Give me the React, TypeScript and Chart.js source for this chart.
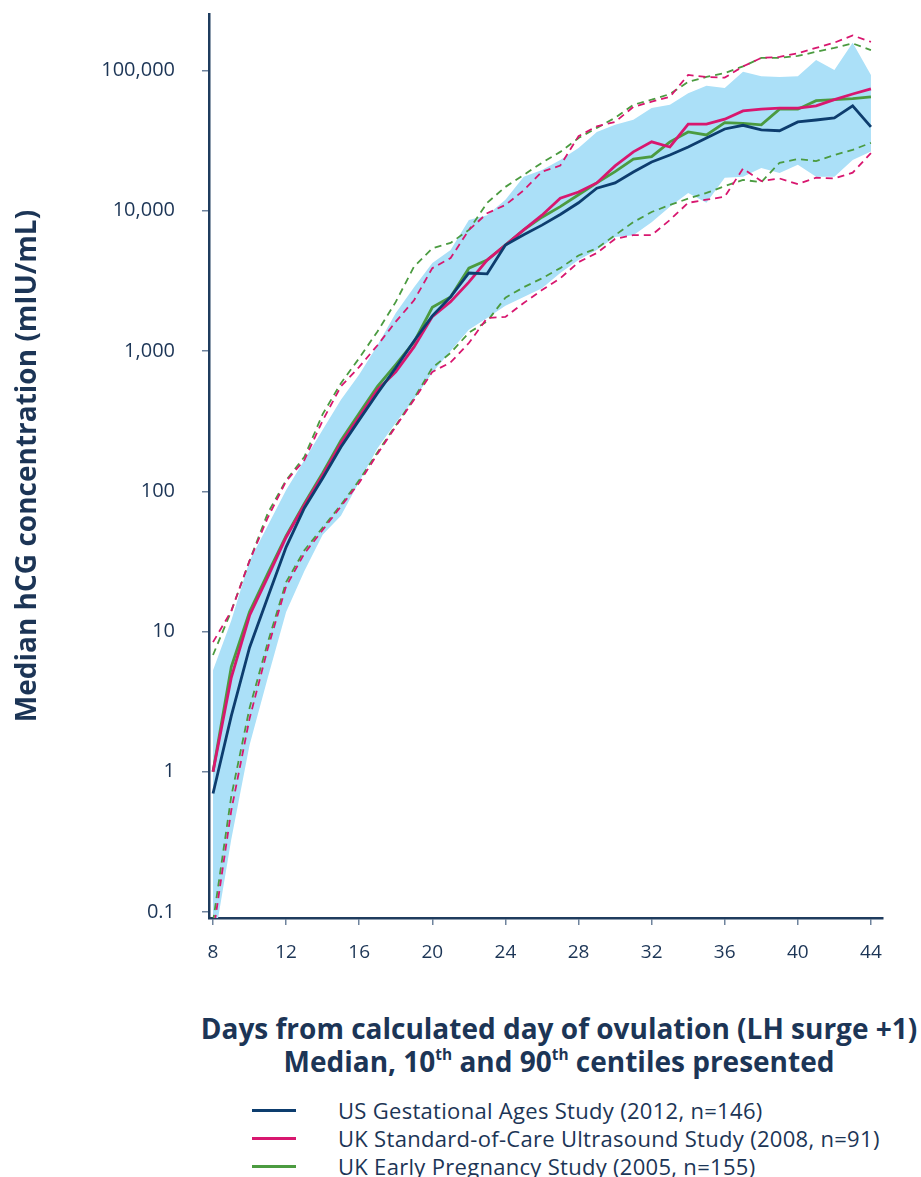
import React, { useEffect, useRef } from "react";
import { Chart, registerables } from "chart.js";

Chart.register(...registerables);

// ---- data ----
const days = [8, 9, 10, 11, 12, 13, 14, 15, 16, 17, 18, 19, 20, 21, 22, 23, 24, 25, 26, 27, 28, 29, 30, 31, 32, 33, 34, 35, 36, 37, 38, 39, 40, 41, 42, 43, 44];

const usMedian = [0.7, 2.5, 7.7, 17.6, 40, 76, 124, 207, 323, 500, 760, 1180, 1780, 2430, 3600, 3550, 5700, 6750, 7900, 9400, 11400, 14500, 15800, 18900, 22300, 25000, 28500, 33000, 38300, 40700, 37800, 37200, 43000, 44400, 46000, 56000, 39700];
const usP90 = [5.3, 12, 32, 57, 102, 167, 275, 450, 680, 1100, 1870, 2850, 4250, 5250, 8600, 9300, 12000, 17500, 19500, 23000, 28000, 36500, 41000, 44500, 54000, 57000, 69000, 78000, 75000, 98000, 91000, 90000, 91000, 119000, 101000, 158000, 93000];
const usP10 = [0.055, 0.33, 1.55, 4.7, 13.8, 27, 49, 67, 117, 203, 308, 455, 700, 1000, 1420, 1720, 2100, 2430, 2800, 3600, 4450, 5250, 6500, 6700, 8300, 10700, 13400, 11400, 17200, 17500, 20200, 18600, 21300, 17500, 17500, 23000, 26500];

const socMedian = [1.0, 4.7, 13, 24.5, 47, 80, 130, 220, 340, 530, 710, 1070, 1760, 2250, 3100, 4450, 5700, 7300, 9300, 12300, 13600, 15800, 20900, 26300, 31000, 28500, 41500, 41500, 45000, 51500, 53000, 54000, 54000, 56000, 62000, 68000, 74000];
const socP90 = [8.4, 14, 32, 65, 118, 167, 320, 560, 770, 1100, 1620, 2300, 3900, 4600, 7300, 9600, 11000, 14000, 19000, 21000, 34000, 40000, 43000, 55000, 60000, 65000, 93000, 90000, 89000, 107000, 123000, 125000, 133000, 145000, 158000, 178000, 160000];
const socP10 = [0.07, 0.53, 2.4, 7.6, 21, 36, 53, 78, 115, 185, 290, 450, 710, 830, 1140, 1720, 1750, 2200, 2720, 3300, 4300, 5000, 6300, 6700, 6700, 8600, 11400, 12000, 12600, 20000, 16300, 17000, 15500, 17200, 17000, 18700, 25800];

const epMedian = [1.0, 5.6, 13.8, 26, 48, 82, 135, 230, 360, 560, 800, 1160, 2050, 2430, 3900, 4450, 5700, 7300, 9000, 10700, 13000, 15800, 19000, 23400, 24300, 31000, 36500, 34700, 42500, 42000, 41000, 53000, 53000, 61000, 62000, 63000, 65000];
const epP90 = [6.8, 14, 32, 70, 120, 176, 355, 590, 890, 1380, 2240, 4000, 5400, 5900, 7300, 11400, 14800, 18000, 22000, 26300, 33000, 39000, 46000, 57000, 62000, 68000, 83000, 90000, 96000, 107000, 123000, 123000, 127000, 136000, 145000, 156000, 140000];
const epP10 = [0.085, 0.67, 2.85, 8.4, 22.5, 38, 55, 80, 120, 190, 295, 460, 760, 970, 1350, 1630, 2400, 2850, 3300, 3900, 4800, 5400, 6700, 8300, 9800, 11000, 12200, 13400, 15000, 16600, 16000, 22000, 23400, 22600, 25000, 27200, 30500];

const xTicks = [8, 12, 16, 20, 24, 28, 32, 36, 40, 44];
const yTicks = [0.1, 1, 10, 100, 1000, 10000, 100000];

const seriesNames = [
  "US Gestational Ages Study (2012, n=146)",
  "UK Standard-of-Care Ultrasound Study (2008, n=91)",
  "UK Early Pregnancy Study (2005, n=155)",
];

// ---- styles ----
const NAVY_TEXT = "#1c3556";
const BLUE = "#0d3d6e";
const PINK = "#d8176f";
const GREEN = "#4b9b40";
const BAND = "#abe0f8";
const FONT = "'Open Sans', 'DejaVu Sans', sans-serif";

const pts = (vals: number[]) => days.map((d, i) => ({ x: d, y: vals[i] }));

export default function App() {
  const canvasRef = useRef<HTMLCanvasElement | null>(null);

  useEffect(() => {
    document.body.style.margin = "0";
    const ctx = canvasRef.current;
    if (!ctx) return;
    const solid = (label: string, vals: number[], color: string, order: number) => ({
      label,
      data: pts(vals),
      borderColor: color,
      backgroundColor: color,
      borderWidth: 2.8,
      pointRadius: 0,
      tension: 0,
      fill: false,
      order,
    });
    const dashed = (label: string, vals: number[], color: string, order: number) => ({
      label,
      data: pts(vals),
      borderColor: color,
      backgroundColor: color,
      borderWidth: 1.8,
      borderDash: [7, 5],
      pointRadius: 0,
      tension: 0,
      fill: false,
      order,
    });
    const chart = new Chart(ctx, {
      type: "line",
      data: {
        datasets: [
          solid(seriesNames[0], usMedian, BLUE, 0),
          solid(seriesNames[1], socMedian, PINK, 1),
          solid(seriesNames[2], epMedian, GREEN, 2),
          dashed("UK SoC 90th", socP90, PINK, 3),
          dashed("UK SoC 10th", socP10, PINK, 3),
          dashed("UK EP 90th", epP90, GREEN, 4),
          dashed("UK EP 10th", epP10, GREEN, 4),
          {
            label: "US 90th",
            data: pts(usP90),
            borderWidth: 0,
            borderColor: BAND,
            backgroundColor: BAND,
            pointRadius: 0,
            tension: 0,
            fill: "+1",
            order: 10,
          },
          {
            label: "US 10th",
            data: pts(usP10),
            borderWidth: 0,
            borderColor: BAND,
            backgroundColor: BAND,
            pointRadius: 0,
            tension: 0,
            fill: false,
            order: 11,
          },
        ] as any,
      },
      options: {
        animation: false,
        responsive: false,
        events: [],
        layout: { padding: { left: 0, top: 14, right: 38, bottom: 12 } },
        plugins: {
          legend: { display: false },
          tooltip: { enabled: false },
        },
        scales: {
          x: {
            type: "linear",
            min: 7.78,
            max: 44.66,
            afterBuildTicks: (s: any) => {
              s.ticks = xTicks.map((v) => ({ value: v }));
            },
            afterFit: (s: any) => {
              s.height = 60;
              s.paddingLeft = 0;
              s.paddingRight = 0;
            },
            ticks: {
              color: NAVY_TEXT,
              font: { family: FONT, size: 19 },
              padding: 16,
              autoSkip: false,
              maxRotation: 0,
              callback: (v: any) => String(v),
            },
            grid: {
              display: true,
              drawOnChartArea: false,
              drawTicks: true,
              tickLength: 7,
              color: "#6f839d",
              lineWidth: 1.5,
            },
            border: { display: true, color: "#1f3c5e", width: 2.5 },
          },
          y: {
            type: "logarithmic",
            min: 0.0906,
            max: 253000,
            afterBuildTicks: (s: any) => {
              s.ticks = yTicks.map((v) => ({ value: v }));
            },
            afterFit: (s: any) => {
              s.width = 209;
              s.paddingTop = 0;
              s.paddingBottom = 0;
            },
            ticks: {
              color: NAVY_TEXT,
              font: { family: FONT, size: 20 },
              padding: 27,
              autoSkip: false,
              callback: (v: any) => Number(v).toLocaleString("en-US"),
            },
            grid: {
              display: true,
              drawOnChartArea: false,
              drawTicks: true,
              tickLength: 7,
              color: "#6f839d",
              lineWidth: 1.5,
            },
            border: { display: true, color: "#1f3c5e", width: 2.5 },
            title: {
              display: true,
              text: "Median hCG concentration (mIU/mL)",
              color: NAVY_TEXT,
              font: { family: FONT, size: 28, weight: "bold" },
              padding: { top: 11, bottom: 0 },
            },
          },
        },
      } as any,
    });
    return () => chart.destroy();
  }, []);

  const legendColors = [BLUE, PINK, GREEN];
  const legendY = [1110, 1138, 1166];
  const supStyle = { fontSize: "0.55em", lineHeight: 0, verticalAlign: "0.75em" };

  return (
    <div style={{ position: "relative", width: 921, height: 1177, overflow: "hidden", background: "#fff", fontFamily: FONT, color: NAVY_TEXT }}>
      <canvas ref={canvasRef} width={921} height={990} style={{ position: "absolute", left: 0, top: 0, width: 921, height: 990 }} />
      <div
        style={{
          position: "absolute",
          left: 559,
          top: 1012,
          transform: "translateX(-50%)",
          whiteSpace: "nowrap",
          textAlign: "center",
          fontSize: 28,
          fontWeight: 700,
          lineHeight: "33px",
        }}
      >
        <div>Days from calculated day of ovulation (LH surge +1)</div>
        <div>
          Median, 10<sup style={supStyle}>th</sup> and 90<sup style={supStyle}>th</sup> centiles presented
        </div>
      </div>
      {seriesNames.map((name, i) => (
        <div key={name} style={{ position: "absolute", left: 0, top: legendY[i] - 14, height: 28, width: 921 }}>
          <div style={{ position: "absolute", left: 252, top: 12.5, width: 44, height: 3, background: legendColors[i] }} />
          <div style={{ position: "absolute", left: 338, top: 0, lineHeight: "28px", fontSize: 22, letterSpacing: "0.3px", whiteSpace: "nowrap" }}>{name}</div>
        </div>
      ))}
    </div>
  );
}
